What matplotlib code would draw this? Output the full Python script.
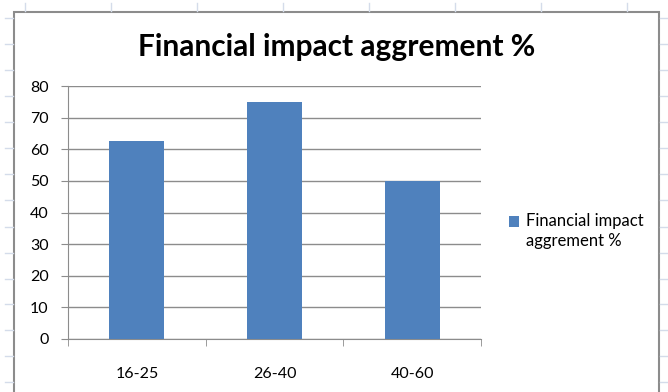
import matplotlib
matplotlib.use("Agg")
import matplotlib.pyplot as plt
from matplotlib.lines import Line2D
from matplotlib.patches import Rectangle
from matplotlib.container import BarContainer
from matplotlib.legend_handler import HandlerPatch, update_from_first_child

categories = ["16-25", "26-40", "40-60"]
values = [62.5, 75, 50]
series_name = "Financial impact\naggrement %"
title = "Financial impact aggrement %"
yticks = [0, 10, 20, 30, 40, 50, 60, 70, 80]

W, H = 668, 392
plt.rcParams['font.family'] = ['Lato', 'DejaVu Sans']

fig = plt.figure(figsize=(W / 100, H / 100), dpi=100)
fig.patch.set_facecolor("white")

def fx(px):
    return px / W

def fy(py):
    return 1 - py / H

# spreadsheet gridline stubs outside the chart object
grid_c = "#D4DCEA"
rows = [18, 44, 70, 96, 122, 148, 174, 200, 227, 253, 279, 304, 330, 356, 382]
for r in rows:
    fig.add_artist(Line2D([fx(5), fx(13)], [fy(r), fy(r)], color=grid_c, lw=1, transform=fig.transFigure))
    fig.add_artist(Line2D([fx(660), fx(668)], [fy(r), fy(r)], color=grid_c, lw=1, transform=fig.transFigure))
cols = [25, 111, 197, 283, 369, 455, 541, 627]
for c in cols:
    fig.add_artist(Line2D([fx(c), fx(c)], [fy(3), fy(11)], color=grid_c, lw=1, transform=fig.transFigure))

# chart object border
fig.add_artist(Rectangle((fx(14), fy(400)), fx(659) - fx(14), fy(12) - fy(400),
                         transform=fig.transFigure, facecolor="white",
                         edgecolor="#8C8C8C", lw=1.5, zorder=0))

ax = fig.add_axes([fx(68), fy(339), fx(481) - fx(68), fy(86) - fy(339)])
ax.set_facecolor("none")
x = list(range(len(categories)))
ax.bar(x, values, width=0.4, color="#4F81BD", zorder=3, label=series_name)

ax.set_xlim(-0.5, len(categories) - 0.5)
ax.set_ylim(0, 80)
ax.set_yticks(yticks)
ax.set_yticklabels([str(v) for v in yticks])
ax.yaxis.grid(True, color="#8C8C8C", lw=1)
ax.set_axisbelow(True)

ax.set_xticks(x)
ax.set_xticklabels(categories)
ax.set_xticks([i - 0.5 for i in range(len(categories) + 1)], minor=True)
ax.tick_params(axis="x", which="major", length=0, pad=20, labelsize=11.5, colors="black")
ax.tick_params(axis="x", which="minor", length=5, color="#8C8C8C", direction="out")
ax.tick_params(axis="y", length=5, color="#8C8C8C", pad=9, labelsize=11.5, labelcolor="black")

for s in ["top", "right"]:
    ax.spines[s].set_visible(False)
ax.spines["left"].set_color("#8C8C8C")
ax.spines["bottom"].set_color("#8C8C8C")

fig.text(fx(337), fy(47), title, ha="center", va="center", fontsize=21.5, fontweight="bold")


def square_first_line(legend, orig_handle, xdescent, ydescent, width, height, fontsize):
    # align the legend key with the first text line, as Excel does
    return Rectangle((-xdescent, -ydescent + 0.62 * fontsize), width, height)


leg = ax.legend(loc="center left", bbox_to_anchor=(fx(509), fy(231)), bbox_transform=fig.transFigure,
                frameon=False, fontsize=12, handlelength=0.6, handleheight=0.6, handletextpad=0.4,
                borderpad=0, borderaxespad=0,
                handler_map={BarContainer: HandlerPatch(patch_func=square_first_line,
                                                        update_func=update_from_first_child)})
for t in leg.get_texts():
    t.set_linespacing(1.25)

fig.savefig("out.png", dpi=100)
